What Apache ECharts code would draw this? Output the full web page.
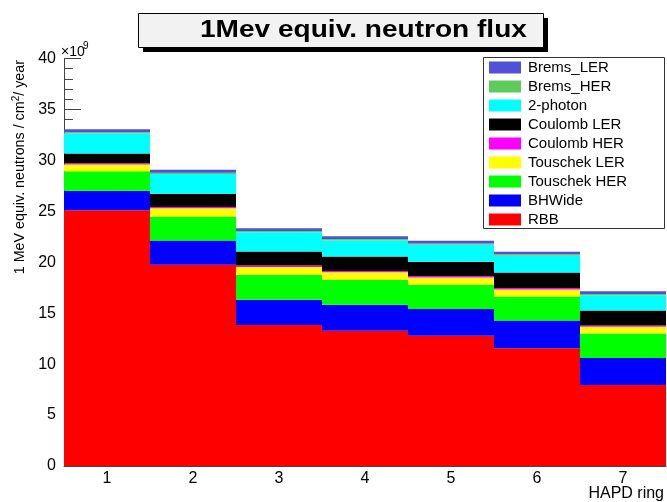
<!DOCTYPE html>
<html>
<head>
<meta charset="utf-8">
<script src="https://cdn.jsdelivr.net/npm/echarts@6/dist/echarts.min.js"></script>
<style>
  html, body { margin: 0; padding: 0; background: #fff; }
  #chart { width: 667px; height: 502px; }
</style>
</head>
<body>
<div id="chart"></div>
<script>
// HAPD rings (x categories)
const rings = ['1', '2', '3', '4', '5', '6', '7'];

// Y axis tick labels (units of 1e9 n/cm2/year)
const yTicks = [0, 5, 10, 15, 20, 25, 30, 35, 40];

// Stacked contributions per ring, in units of 1e9, bottom of stack first
const rbb         = [25.10, 19.75, 13.83, 13.27, 12.78, 11.57, 7.96];
const bhWide      = [1.91, 2.39, 2.49, 2.56, 2.62, 2.71, 2.65];
const touschekHER = [1.93, 2.36, 2.46, 2.46, 2.39, 2.36, 2.39];
const touschekLER = [0.66, 0.79, 0.76, 0.72, 0.72, 0.69, 0.66];
const coulombHER  = [0.12, 0.13, 0.13, 0.14, 0.14, 0.14, 0.14];
const coulombLER  = [0.95, 1.31, 1.38, 1.41, 1.41, 1.53, 1.47];
const twoPhoton   = [1.97, 1.94, 1.90, 1.57, 1.67, 1.64, 1.49];
const bremsHER    = [0.12, 0.12, 0.12, 0.14, 0.12, 0.14, 0.13];
const bremsLER    = [0.30, 0.30, 0.27, 0.27, 0.26, 0.25, 0.27];

const components = [
  { name: 'RBB',          data: rbb,         color: '#ff0000' },
  { name: 'BHWide',       data: bhWide,      color: '#0000ff' },
  { name: 'Touschek HER', data: touschekHER, color: '#00ff00' },
  { name: 'Touschek LER', data: touschekLER, color: '#ffff00' },
  { name: 'Coulomb HER',  data: coulombHER,  color: '#ff00ff' },
  { name: 'Coulomb LER',  data: coulombLER,  color: '#000000' },
  { name: '2-photon',     data: twoPhoton,   color: '#00ffff' },
  { name: 'Brems_HER',    data: bremsHER,    color: '#5ccc5c' },
  { name: 'Brems_LER',    data: bremsLER,    color: '#5050d8' }
];

const FONT = '"Liberation Sans", Arial, Helvetica, sans-serif';

const chart = echarts.init(document.getElementById('chart'), null, { renderer: 'canvas' });

chart.setOption({
  animation: false,
  backgroundColor: '#ffffff',
  grid: { left: 64, right: 1, top: 58.5, bottom: 36, containLabel: false },
  xAxis: {
    type: 'category',
    data: rings,
    boundaryGap: true,
    axisLine: { show: true, lineStyle: { color: '#444', width: 1 } },
    axisTick: { show: false },
    axisLabel: { color: '#000', fontSize: 16, fontFamily: FONT, margin: 5 },
    splitLine: { show: false }
  },
  yAxis: {
    type: 'value',
    min: yTicks[0],
    max: yTicks[yTicks.length - 1],
    interval: yTicks[1] - yTicks[0],
    axisLine: { show: true, lineStyle: { color: '#444', width: 1 } },
    axisTick: { show: true, inside: true, length: 17, lineStyle: { color: '#444' } },
    minorTick: { show: true, splitNumber: 5, length: 9, lineStyle: { color: '#444' } },
    axisLabel: { color: '#000', fontSize: 16, fontFamily: FONT, margin: 8 },
    splitLine: { show: false }
  },
  legend: {
    orient: 'vertical',
    left: 484,
    top: 57,
    padding: [3, 5, 3, 5],
    itemWidth: 32,
    itemHeight: 12,
    itemGap: 4,
    icon: 'rect',
    data: components.slice().reverse().map(c => c.name),
    textStyle: { color: '#000', fontSize: 15, fontFamily: FONT, padding: [0, 0, 0, 2] },
    z: 12
  },
  series: components.map(c => ({
    name: c.name,
    type: 'bar',
    stack: 'flux',
    data: c.data,
    barCategoryGap: '0%',
    barGap: '0%',
    itemStyle: { color: c.color },
    emphasis: { disabled: true }
  })),
  graphic: [
    // legend frame
    { type: 'rect', z: 10, shape: { x: 483.5, y: 57.5, width: 181, height: 171 },
      style: { fill: '#fff', stroke: '#333', lineWidth: 1 } },
    // title box with drop shadow
    { type: 'rect', z: 10, shape: { x: 143, y: 18, width: 405, height: 34 },
      style: { fill: '#000' } },
    { type: 'rect', z: 11, shape: { x: 138.5, y: 13.5, width: 405, height: 34 },
      style: { fill: '#f2f2f2', stroke: '#000', lineWidth: 1 } },
    { type: 'text', z: 12, x: 200, y: 31, scaleX: 1.22,
      style: { text: '1Mev equiv. neutron flux', fill: '#000',
               font: 'bold 23px ' + FONT, textAlign: 'left', textVerticalAlign: 'middle' } },
    // exponent of the y axis
    { type: 'text', z: 12, x: 61, y: 52,
      style: { text: '×10', fill: '#000', font: '14px ' + FONT,
               textAlign: 'left', textVerticalAlign: 'middle' } },
    { type: 'text', z: 12, x: 83, y: 46,
      style: { text: '9', fill: '#000', font: '10px ' + FONT,
               textAlign: 'left', textVerticalAlign: 'middle' } },
    // y axis title
    { type: 'text', z: 12, x: 20, y: 60, rotation: Math.PI / 2,
      style: {
        text: '{m|1 MeV equiv. neutrons / cm}{s|2}{m|/ year}',
        textAlign: 'right', textVerticalAlign: 'middle',
        rich: {
          m: { fontSize: 14.3, fontFamily: FONT, color: '#000', lineHeight: 18 },
          s: { fontSize: 10, fontFamily: FONT, color: '#000', verticalAlign: 'top', lineHeight: 18 }
        }
      } },
    // x axis title
    { type: 'text', z: 12, x: 664, y: 494,
      style: { text: 'HAPD ring', fill: '#000', font: '16px ' + FONT,
               textAlign: 'right', textVerticalAlign: 'middle' } }
  ]
});
</script>
</body>
</html>
